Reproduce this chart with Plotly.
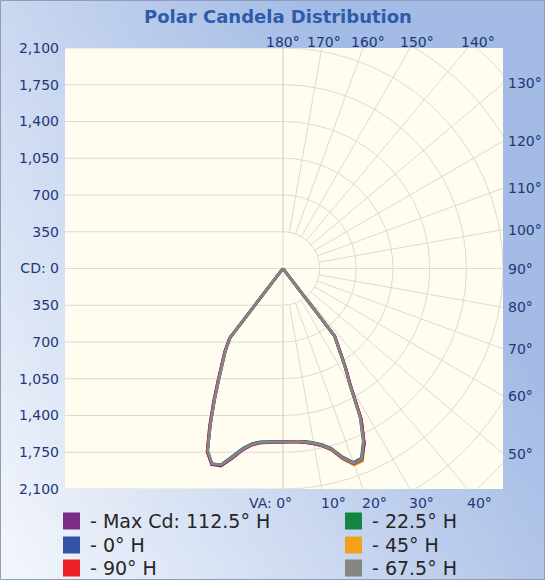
import zlib, struct, base64
import numpy as np
import plotly.graph_objects as go

# ---------------- data ----------------
vertical_angles = [0, 2.5, 5, 7.5, 10, 12.5, 15, 17.5, 20, 22.5, 25, 27.5, 30, 32.5, 35, 37.5, 40]

# right half of the plot = plane H, left half = plane H+180
max112_front = [1655, 1655, 1660, 1672, 1695, 1730, 1785, 1895, 1980, 1970, 1835, 1615, 1290, 1105, 935, 812, 0]
max112_back = [1655, 1657, 1663, 1674, 1705, 1768, 1870, 1972, 1985, 1888, 1650, 1430, 1240, 1090, 968, 835, 0]
h0_front = [1648, 1648, 1652, 1665, 1688, 1722, 1776, 1885, 1970, 1962, 1830, 1612, 1285, 1102, 932, 810, 0]
h0_back = [1650, 1652, 1658, 1668, 1698, 1756, 1858, 1962, 1980, 1880, 1642, 1422, 1232, 1082, 962, 832, 0]
h90_front = [1650, 1650, 1656, 1670, 1692, 1728, 1782, 1892, 1972, 1968, 1838, 1622, 1295, 1110, 938, 815, 0]
h90_back = [1656, 1658, 1664, 1676, 1708, 1770, 1872, 1970, 1985, 1892, 1658, 1438, 1246, 1094, 970, 838, 0]
h22_front = [1645, 1645, 1650, 1662, 1684, 1718, 1772, 1880, 1965, 1955, 1815, 1595, 1275, 1096, 928, 808, 0]
h22_back = [1648, 1650, 1655, 1665, 1694, 1752, 1852, 1958, 1990, 1882, 1640, 1416, 1226, 1078, 958, 828, 0]
h45_front = [1652, 1652, 1658, 1672, 1696, 1734, 1792, 1905, 1992, 1985, 1835, 1605, 1282, 1098, 929, 808, 0]
h45_back = [1652, 1654, 1660, 1670, 1700, 1760, 1862, 1965, 1985, 1880, 1638, 1418, 1228, 1079, 959, 829, 0]
h67_front = [1650, 1650, 1655, 1668, 1690, 1725, 1780, 1890, 1975, 1965, 1820, 1600, 1280, 1100, 930, 810, 0]
h67_back = [1652, 1654, 1660, 1670, 1700, 1760, 1860, 1960, 1978, 1878, 1640, 1420, 1230, 1080, 960, 830, 0]

series_names = ["- Max Cd: 112.5° H", "- 0° H", "- 90° H", "- 22.5° H", "- 45° H", "- 67.5° H"]
series_colors = ["#7B2C86", "#3253A4", "#EC2027", "#148544", "#F5A21B", "#858585"]
series_front = [max112_front, h0_front, h90_front, h22_front, h45_front, h67_front]
series_back = [max112_back, h0_back, h90_back, h22_back, h45_back, h67_back]

cd_ticks = [-2100, -1750, -1400, -1050, -700, -350, 0, 350, 700, 1050, 1400, 1750, 2100]
cd_ticktext = ["2,100", "1,750", "1,400", "1,050", "700", "350", "CD: 0", "350", "700", "1,050", "1,400", "1,750", "2,100"]
grid_step = 350
ray_angles = list(range(0, 181, 10))
top_labels = [180, 170, 160, 150, 140]
side_labels = [130, 120, 110, 100, 90, 80, 70, 60, 50]
bottom_labels = [10, 20, 30, 40]

# ---------------- geometry ----------------
XR = [-2080, 2100]
YR = [-2100, 2100]
W, H = 545, 580
ML, MR, MT, MB = 65, 42, 48, 91
PW, PH = W - ML - MR, H - MT - MB
pxx = PW / (XR[1] - XR[0])
pxy = PH / (YR[1] - YR[0])
CX = ML + (0 - XR[0]) * pxx      # pixel of the centre
CY = MT + (YR[1] - 0) * pxy


def px2paper_x(p):
    return (p - ML) / PW


def px2paper_y(p):
    return 1 - (p - MT) / PH


def data2paper_x(x):
    return (x - XR[0]) / (XR[1] - XR[0])


def data2paper_y(y):
    return (y - YR[0]) / (YR[1] - YR[0])


NAVY = "#1F3878"
FONT = "DejaVu Sans"
GRID = "#DDDACF"

fig = go.Figure()

# ---- grid: left half horizontal lines ----
gx, gy = [], []
for v in cd_ticks:
    gx += [XR[0], 0 if v != 0 else XR[1], None]
    gy += [v, v, None]
gx += [0, 0, None]
gy += [YR[0], YR[1], None]
# ---- right half polar grid ----
for a in ray_angles:
    t = np.radians(a)
    gx += [grid_step * np.sin(t), 3300 * np.sin(t), None]
    gy += [-grid_step * np.cos(t), -3300 * np.cos(t), None]
arc = np.radians(np.linspace(0, 180, 181))
for k in range(1, 9):
    r = grid_step * k
    gx += list(r * np.sin(arc)) + [None]
    gy += list(-r * np.cos(arc)) + [None]
fig.add_trace(go.Scatter(x=gx, y=gy, mode="lines", line=dict(color=GRID, width=1),
                         hoverinfo="skip", showlegend=False))

# ---- candela curves ----
th = np.radians(np.array(vertical_angles, dtype=float))
draw_order = [3, 4, 1, 2, 0, 5]
for i in draw_order:
    f = np.array(series_front[i], dtype=float)
    b = np.array(series_back[i], dtype=float)
    xl = (-b * np.sin(th))[::-1]
    yl = (-b * np.cos(th))[::-1]
    xr = f[1:] * np.sin(th[1:])
    yr = -f[1:] * np.cos(th[1:])
    fig.add_trace(go.Scatter(x=np.concatenate([xl, xr]), y=np.concatenate([yl, yr]),
                             mode="lines",
                             line=dict(color=series_colors[i], width=2.8),
                             name=series_names[i], showlegend=False))

# ---- angle labels (paper coordinates so they can sit outside the plot) ----
ann = []
lab_font = dict(family=FONT, size=14, color=NAVY)
ytop_ref = (CY - 35) / pxy
for a in top_labels:
    x = ytop_ref * np.tan(np.radians(180 - a))
    ann.append(dict(x=data2paper_x(x), y=px2paper_y(42), xref="paper", yref="paper",
                    text=f"{a}°", showarrow=False, xanchor="center", yanchor="middle",
                    font=lab_font))
for a in side_labels:
    y = -XR[1] / np.tan(np.radians(a))
    ann.append(dict(x=px2paper_x(506), y=data2paper_y(y), xref="paper", yref="paper",
                    text=f"{a}°", showarrow=False, xanchor="left", yanchor="middle",
                    font=lab_font))
for a in bottom_labels:
    x = -YR[0] * np.tan(np.radians(a))
    ann.append(dict(x=data2paper_x(x) - 3 / PW, y=px2paper_y(503), xref="paper", yref="paper",
                    text=f"{a}°", showarrow=False, xanchor="left", yanchor="middle",
                    font=lab_font))
ann.append(dict(x=px2paper_x(CX + 11), y=px2paper_y(503), xref="paper", yref="paper",
                text="VA: 0°", showarrow=False, xanchor="right", yanchor="middle",
                font=lab_font))

# ---- legend (swatches + text) ----
shapes = []
leg_rows = [521, 545, 568]
leg_cols = [63, 345]
for i, nm in enumerate(series_names):
    col, row = divmod(i, 3)
    x0 = leg_cols[col]
    yc = leg_rows[row]
    shapes.append(dict(type="rect", xref="paper", yref="paper",
                       x0=px2paper_x(x0), x1=px2paper_x(x0 + 17),
                       y0=px2paper_y(yc + 8.5), y1=px2paper_y(yc - 8.5),
                       fillcolor=series_colors[i], line=dict(width=0), layer="above"))
    ann.append(dict(x=px2paper_x(x0 + 25), y=px2paper_y(yc), xref="paper", yref="paper",
                    text=nm, showarrow=False, xanchor="left", yanchor="middle",
                    font=dict(family=FONT, size=19, color="#262626")))


# ---- background gradient image ----
def make_png(w, h, fn):
    raw = bytearray()
    for j in range(h):
        raw.append(0)
        for i in range(w):
            raw += bytes(fn(i / (w - 1), j / (h - 1)))

    def chunk(t, d):
        c = struct.pack(">I", len(d)) + t + d
        return c + struct.pack(">I", zlib.crc32(t + d) & 0xffffffff)
    png = (b"\x89PNG\r\n\x1a\n" + chunk(b"IHDR", struct.pack(">IIBBBBB", w, h, 8, 2, 0, 0, 0))
           + chunk(b"IDAT", zlib.compress(bytes(raw))) + chunk(b"IEND", b""))
    return "data:image/png;base64," + base64.b64encode(png).decode()


LIGHT = (240, 244, 251)
DARK = (163, 187, 229)


def grad(u, v):
    t = min(1.0, max(0.0, 0.85 * u + 0.55 * (1 - v) - 0.05))
    return tuple(int(round(LIGHT[c] + (DARK[c] - LIGHT[c]) * t)) for c in range(3))


bg_src = make_png(48, 48, grad)

shapes = [
    dict(type="rect", xref="paper", yref="paper", x0=0, x1=1, y0=0, y1=1,
         fillcolor="#FFFDF0", line=dict(width=0), layer="below"),
    dict(type="rect", xref="paper", yref="paper", x0=px2paper_x(0.5), x1=px2paper_x(W - 0.5),
         y0=px2paper_y(H - 0.5), y1=px2paper_y(0.5),
         line=dict(color="#8E9DBA", width=1), fillcolor="rgba(0,0,0,0)", layer="above"),
] + shapes

fig.update_layout(
    images=[dict(source=bg_src, xref="paper", yref="paper", x=px2paper_x(0), y=px2paper_y(0),
                 sizex=W / PW, sizey=H / PH, xanchor="left", yanchor="top",
                 sizing="stretch", layer="below")],
    shapes=shapes,
    annotations=ann,
    width=W, height=H,
    margin=dict(l=ML, r=MR, t=MT, b=MB, pad=0, autoexpand=False),
    paper_bgcolor="#C9D7EF", plot_bgcolor="rgba(0,0,0,0)",
    title=dict(text="<b>Polar Candela Distribution</b>", x=0.51, xanchor="center",
               y=1 - 17 / H, yanchor="middle",
               font=dict(family=FONT, size=18, color="#2C5CAA")),
    xaxis=dict(range=XR, showgrid=False, zeroline=False, showticklabels=False, ticks="",
               showline=False, fixedrange=True),
    yaxis=dict(range=YR, showgrid=False, zeroline=False, tickmode="array", tickvals=cd_ticks,
               ticktext=cd_ticktext, ticks="", showline=False, ticklabelstandoff=5,
               tickfont=dict(family=FONT, size=14, color=NAVY), fixedrange=True),
    showlegend=False,
)

fig.write_html("out.html", config={"displayModeBar": False, "staticPlot": True},
               post_script="document.body.style.margin='0px';document.body.style.overflow='hidden';")
